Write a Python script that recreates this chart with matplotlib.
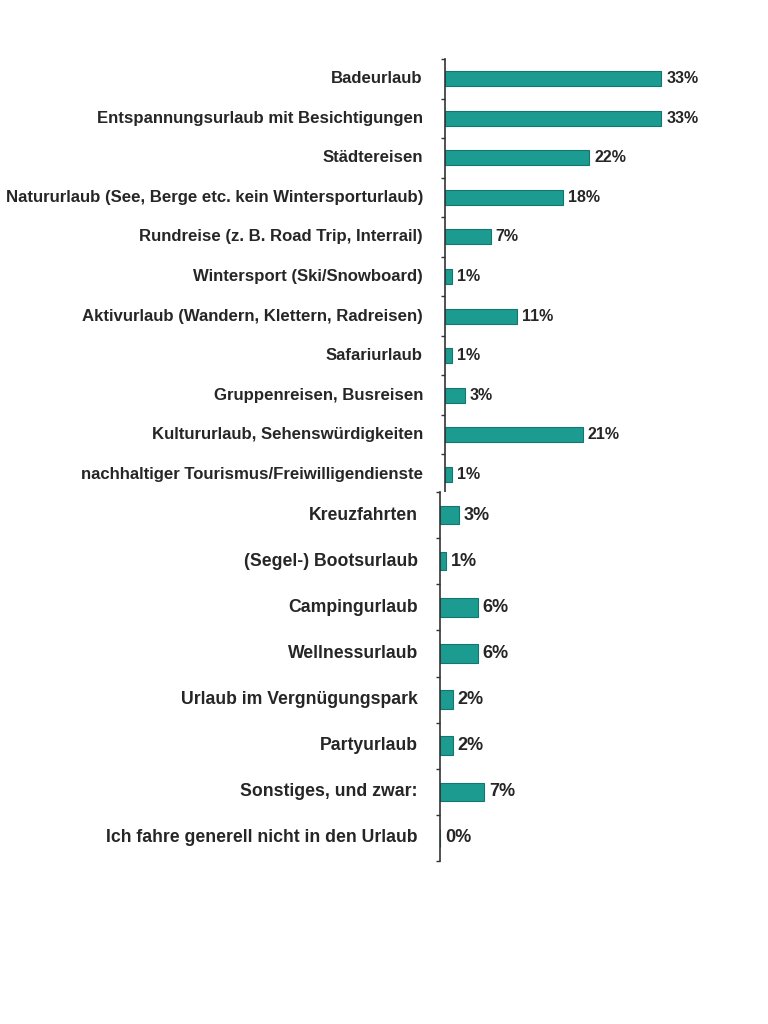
import numpy as np
import matplotlib
matplotlib.use("Agg")
from matplotlib import pyplot as plt

top_labels = [
    "Badeurlaub",
    "Entspannungsurlaub mit Besichtigungen",
    "Städtereisen",
    "Natururlaub (See, Berge etc. kein Wintersporturlaub)",
    "Rundreise (z. B. Road Trip, Interrail)",
    "Wintersport (Ski/Snowboard)",
    "Aktivurlaub (Wandern, Klettern, Radreisen)",
    "Safariurlaub",
    "Gruppenreisen, Busreisen",
    "Kultururlaub, Sehenswürdigkeiten",
    "nachhaltiger Tourismus/Freiwilligendienste",
]
top_values = [33, 33, 22, 18, 7, 1, 11, 1, 3, 21, 1]

bottom_labels = [
    "Kreuzfahrten",
    "(Segel-) Bootsurlaub",
    "Campingurlaub",
    "Wellnessurlaub",
    "Urlaub im Vergnügungspark",
    "Partyurlaub",
    "Sonstiges, und zwar:",
    "Ich fahre generell nicht in den Urlaub",
]
bottom_values = [3, 1, 6, 6, 2, 2, 7, 0]

W, H = 768, 1024
fig = plt.figure(figsize=(W / 100, H / 100), dpi=100)

bar_color = "#1c9c91"
edge_color = "#14766e"
text_color = "#262626"
font = "Liberation Sans"


def make_panel(left, top, bottom, labels, values, px_per_pct, bar_h, lab_size, val_size):
    width_px = 320
    ax = fig.add_axes([left / W, 1 - bottom / H, width_px / W, (bottom - top) / H])
    y = np.arange(len(labels))
    ax.barh(y, values, height=bar_h, color=bar_color, edgecolor=edge_color, linewidth=0.8)
    ax.set_xlim(0, width_px / px_per_pct)
    ax.set_ylim(len(labels) - 0.5, -0.5)
    for s in ["top", "right", "bottom"]:
        ax.spines[s].set_visible(False)
    ax.spines["left"].set_color("#333333")
    ax.spines["left"].set_linewidth(1.2)
    ax.set_xticks([])
    # ticks sit between the categories
    ax.set_yticks(np.arange(len(labels) + 1) - 0.5)
    ax.set_yticklabels([])
    ax.tick_params(axis="y", length=3, width=1.0, color="#333333", direction="out")
    for i, (lab, v) in enumerate(zip(labels, values)):
        ax.annotate(lab, (0, i), xytext=(-22, 0), textcoords="offset pixels",
                    ha="right", va="center", fontsize=lab_size, family=font,
                    fontweight="bold", color=text_color)
        ax.annotate(f"{v}%", (v, i), xytext=(5, 0), textcoords="offset pixels",
                    ha="left", va="center", fontsize=val_size, family=font,
                    fontweight="bold", color=text_color)
    return ax


make_panel(445, 59, 494, top_labels, top_values, 6.55, 0.38, 12.1, 11.5)
make_panel(440, 492, 861, bottom_labels, bottom_values, 6.3, 0.4, 12.7, 13)

fig.savefig("out.png", dpi=100, facecolor="white")
